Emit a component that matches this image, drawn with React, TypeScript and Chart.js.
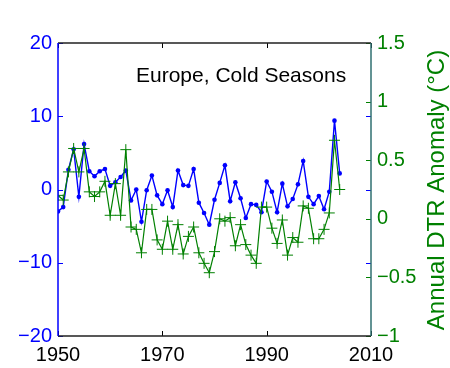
import React, { useEffect, useRef } from "react";
import { Chart, registerables } from "chart.js";

Chart.register(...registerables);

const years = [
  1950, 1951, 1952, 1953, 1954, 1955, 1956, 1957, 1958, 1959,
  1960, 1961, 1962, 1963, 1964, 1965, 1966, 1967, 1968, 1969,
  1970, 1971, 1972, 1973, 1974, 1975, 1976, 1977, 1978, 1979,
  1980, 1981, 1982, 1983, 1984, 1985, 1986, 1987, 1988, 1989,
  1990, 1991, 1992, 1993, 1994, 1995, 1996, 1997, 1998, 1999,
  2000, 2001, 2002, 2003, 2004,
];

// left axis (blue) series
const blueSeries = [
  -3.0, -2.4, 2.7, 5.5, -1.0, 6.2, 2.5, 1.8, 2.5, 2.8,
  0.5, 1.0, 1.7, 2.6, -1.5, 0.0, -4.4, -0.1, 1.9, -0.8,
  -2.0, -0.1, -2.4, 2.6, 0.6, 0.5, 2.8, -1.8, -3.2, -4.8,
  -1.4, 0.9, 3.3, -1.6, 1.0, -1.2, -3.9, -2.0, -2.1, -3.1,
  1.1, -0.3, -3.1, 0.8, -2.3, -1.3, 0.7, 3.9, -1.0, -2.0,
  -0.9, -2.7, -0.3, 9.4, 2.2,
];

// right axis (green) series: Annual DTR Anomaly (°C)
const greenSeries = [
  0.2, 0.16, 0.4, 0.6, 0.4, 0.6, 0.23, 0.19, 0.23, 0.32,
  0.03, 0.3, 0.03, 0.59, -0.07, -0.09, -0.29, 0.08, 0.08, -0.18,
  -0.26, -0.02, -0.26, -0.05, -0.3, -0.15, -0.07, -0.29, -0.38, -0.46,
  -0.28, 0.0, -0.02, 0.01, -0.23, -0.05, -0.22, -0.31, -0.38, 0.1,
  0.1, -0.08, -0.21, -0.01, -0.31, -0.16, -0.2, 0.11, 0.09, -0.17,
  -0.17, -0.09, 0.05, 0.67, 0.25,
];

const xTicks = [1950, 1970, 1990, 2010];
const leftTicks = [-20, -10, 0, 10, 20];
const rightTicks = [-1, -0.5, 0, 0.5, 1, 1.5];

const chartTitle = "Europe, Cold Seasons";
const rightTitle = "Annual DTR Anomaly (°C)";

const BLUE = "#0000ff";
const GREEN = "#008000";
const FONT = "'Liberation Sans', Arial, sans-serif";

const fmt = (v: number) => String(v).replace("-", "\u2212");

const framePlugin = {
  id: "frame",
  afterDatasetsDraw(chart: any) {
    const { ctx, chartArea } = chart;
    const { left, right, top, bottom } = chartArea;
    const x = chart.scales.x;
    const yl = chart.scales.yL;
    const yr = chart.scales.yR;
    const tl = 5;
    ctx.save();
    ctx.lineWidth = 1;
    // ticks
    ctx.strokeStyle = "#000";
    xTicks.forEach((t) => {
      const px = Math.round(x.getPixelForValue(t)) + 0.5;
      ctx.beginPath();
      ctx.moveTo(px, bottom);
      ctx.lineTo(px, bottom - tl);
      ctx.moveTo(px, top);
      ctx.lineTo(px, top + tl);
      ctx.stroke();
    });
    ctx.strokeStyle = BLUE;
    leftTicks.forEach((t) => {
      const py = Math.round(yl.getPixelForValue(t)) + 0.5;
      ctx.beginPath();
      ctx.moveTo(left, py);
      ctx.lineTo(left + tl, py);
      ctx.moveTo(right, py);
      ctx.lineTo(right - tl, py);
      ctx.stroke();
    });
    ctx.strokeStyle = GREEN;
    rightTicks.forEach((t) => {
      const py = Math.round(yr.getPixelForValue(t)) + 0.5;
      ctx.beginPath();
      ctx.moveTo(right, py);
      ctx.lineTo(right - tl, py);
      ctx.stroke();
    });
    // box
    ctx.lineWidth = 1.5;
    ctx.strokeStyle = "#222";
    ctx.beginPath();
    ctx.moveTo(left, top);
    ctx.lineTo(right, top);
    ctx.moveTo(left, bottom);
    ctx.lineTo(right, bottom);
    ctx.stroke();
    ctx.strokeStyle = BLUE;
    ctx.beginPath();
    ctx.moveTo(left, top);
    ctx.lineTo(left, bottom);
    ctx.stroke();
    ctx.strokeStyle = "#2f6f70";
    ctx.beginPath();
    ctx.moveTo(right, top);
    ctx.lineTo(right, bottom);
    ctx.stroke();
    // titles
    ctx.fillStyle = "#000";
    ctx.font = `21px ${FONT}`;
    ctx.textAlign = "left";
    ctx.textBaseline = "middle";
    ctx.fillText(chartTitle, 136, 76);
    ctx.fillStyle = GREEN;
    ctx.font = `24px ${FONT}`;
    ctx.translate(437, 190);
    ctx.rotate(-Math.PI / 2);
    ctx.textAlign = "center";
    ctx.fillText(rightTitle, 0, 0);
    ctx.restore();
  },
};

export default function App() {
  const ref = useRef<HTMLCanvasElement | null>(null);

  useEffect(() => {
    document.body.style.margin = "0";
    const canvas = ref.current;
    if (!canvas) return;
    const chart = new Chart(canvas, {
      type: "line",
      data: {
        datasets: [
          {
            label: "DTR",
            data: years.map((y, i) => ({ x: y, y: greenSeries[i] })),
            yAxisID: "yR",
            borderColor: GREEN,
            backgroundColor: GREEN,
            borderWidth: 1.2,
            pointStyle: "cross",
            pointRadius: 5.5,
            pointBorderWidth: 1,
            pointBorderColor: GREEN,
            tension: 0,
          },
          {
            label: "Left",
            data: years.map((y, i) => ({ x: y, y: blueSeries[i] })),
            yAxisID: "yL",
            borderColor: BLUE,
            backgroundColor: BLUE,
            borderWidth: 1.4,
            pointStyle: "circle",
            pointRadius: 2.3,
            pointBorderWidth: 0,
            tension: 0,
          },
        ],
      },
      options: {
        responsive: false,
        animation: false,
        devicePixelRatio: 1,
        layout: { padding: { top: 43, left: 0, right: 0, bottom: 0 } },
        plugins: {
          legend: { display: false },
          tooltip: { enabled: false },
          title: { display: false },
        },
        scales: {
          x: {
            type: "linear",
            min: 1950,
            max: 2010,
            afterBuildTicks: (s: any) => {
              s.ticks = xTicks.map((v) => ({ value: v }));
            },
            afterFit: (s: any) => {
              s.height = 32;
            },
            grid: { display: false, drawTicks: false },
            border: { display: false },
            ticks: {
              color: "#000",
              font: { family: FONT, size: 20 },
              padding: 7,
              maxRotation: 0,
              autoSkip: false,
              callback: (v: any) => String(v),
            },
          },
          yL: {
            type: "linear",
            position: "left",
            min: -20,
            max: 20,
            afterBuildTicks: (s: any) => {
              s.ticks = leftTicks.map((v) => ({ value: v }));
            },
            afterFit: (s: any) => {
              s.width = 58;
            },
            grid: { display: false, drawTicks: false },
            border: { display: false },
            ticks: {
              color: BLUE,
              font: { family: FONT, size: 20 },
              padding: 6,
              autoSkip: false,
              callback: (v: any) => fmt(v),
            },
          },
          yR: {
            type: "linear",
            position: "right",
            min: -1,
            max: 1.5,
            afterBuildTicks: (s: any) => {
              s.ticks = rightTicks.map((v) => ({ value: v }));
            },
            afterFit: (s: any) => {
              s.width = 79;
            },
            grid: { display: false, drawTicks: false },
            border: { display: false },
            ticks: {
              color: GREEN,
              font: { family: FONT, size: 20 },
              padding: 6,
              autoSkip: false,
              callback: (v: any) => fmt(v),
            },
          },
        },
      },
      plugins: [framePlugin],
    });
    return () => chart.destroy();
  }, []);

  return (
    <div style={{ position: "absolute", left: 0, top: 0, width: 450, height: 368, background: "#fff" }}>
      <canvas ref={ref} width={450} height={368} />
    </div>
  );
}
